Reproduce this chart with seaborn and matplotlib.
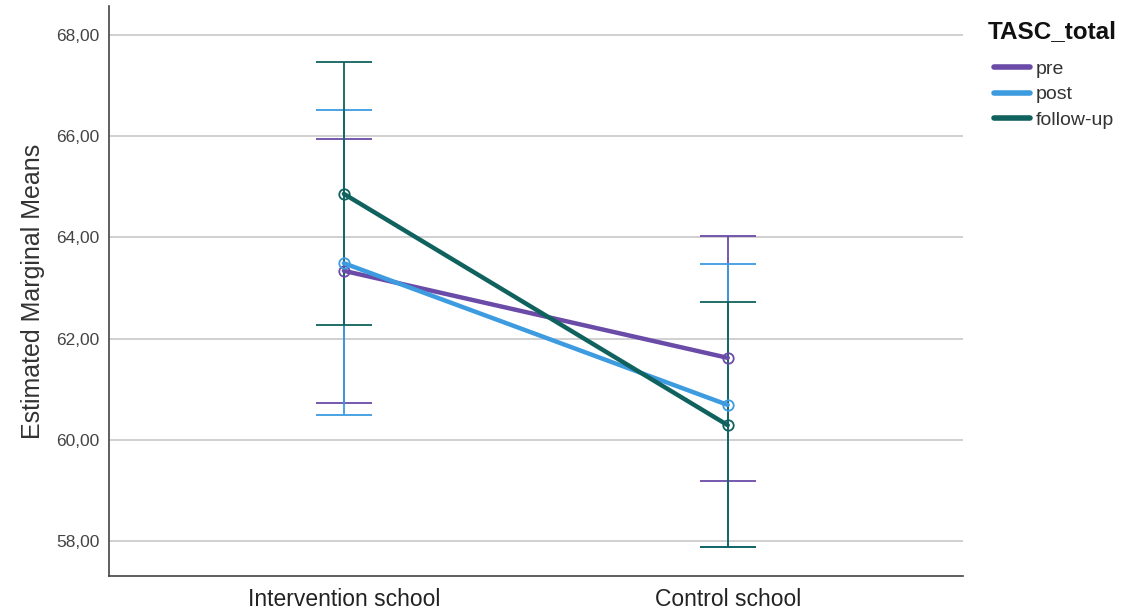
import pandas as pd
import matplotlib
matplotlib.use("Agg")
import matplotlib.pyplot as plt
import seaborn as sns

# data
schools = ["Intervention school", "Control school"]
times = ["pre", "post", "follow-up"]
means_pre = [63.34, 61.62]
means_post = [63.49, 60.69]
means_fu = [64.86, 60.29]
low_pre = [60.73, 59.19]
low_post = [60.49, 57.88]
low_fu = [62.27, 57.88]
high_pre = [65.94, 64.03]
high_post = [66.52, 63.47]
high_fu = [67.47, 62.72]
yticks = [58, 60, 62, 64, 66, 68]

colors = {"pre": "#6b4ba8", "post": "#3d9be0", "follow-up": "#0f625d"}

rows = []
for t, m, lo, hi in zip(times, [means_pre, means_post, means_fu],
                        [low_pre, low_post, low_fu], [high_pre, high_post, high_fu]):
    for i, s in enumerate(schools):
        rows.append({"school": s, "x": i, "TASC_total": t, "mean": m[i], "low": lo[i], "high": hi[i]})
df = pd.DataFrame(rows)

sns.set_style("white")
plt.rcParams['font.family'] = ['Liberation Sans', 'DejaVu Sans']

fig = plt.figure(figsize=(11.22, 6.11), dpi=100)
ax = fig.add_axes([0.0971, 0.0573, 0.7609, 0.9327])

# horizontal gridlines
for yt in yticks:
    ax.axhline(yt, color="#c8c8c8", lw=1.2, zorder=0)

# error bars
for t in times:
    d = df[df["TASC_total"] == t]
    ax.errorbar(d["x"], d["mean"], yerr=[d["mean"] - d["low"], d["high"] - d["mean"]],
                fmt="none", ecolor=colors[t], elinewidth=1.3, capsize=20, capthick=1.3, zorder=2)

# lines with open circle markers
n_before = len(ax.lines)
sns.lineplot(data=df, x="x", y="mean", hue="TASC_total", hue_order=times, palette=colors,
             lw=3.2, marker="o", markersize=7.5, markeredgewidth=1.3,
             ax=ax, legend=False, zorder=3)
for ln in ax.lines[n_before:]:
    ln.set_markerfacecolor("none")
    ln.set_markeredgecolor(ln.get_color())

ax.set_xlim(-0.612, 1.612)
ax.set_ylim(57.31, 68.57)
ax.set_xticks([0, 1])
ax.set_xticklabels(schools, fontsize=16.5, color="#222222")
ax.set_yticks(yticks)
ax.set_yticklabels([f"{v},00" for v in yticks], fontsize=12.5, color="#444444")
ax.tick_params(axis="y", length=0, pad=7)
ax.tick_params(axis="x", length=0, pad=9)
ax.set_xlabel("")
ax.set_ylabel("Estimated Marginal Means", fontsize=18, color="#333333", labelpad=8)

for side in ["top", "right"]:
    ax.spines[side].set_visible(False)
for side in ["left", "bottom"]:
    ax.spines[side].set_color("#444444")
    ax.spines[side].set_linewidth(1.2)

fig.text(0.8806, 1 - 32 / 611, "TASC_total", fontsize=17.5, fontweight="bold",
         color="#111111", va="center", ha="left")
handles = [plt.Line2D([], [], color=colors[t], lw=4) for t in times]
leg = fig.legend(handles, times, loc="upper left",
                 bbox_to_anchor=(0.8863, 1 - 60 / 611), frameon=False, fontsize=14,
                 handlelength=1.85, handletextpad=0.25, labelspacing=0.42,
                 borderpad=0.0, borderaxespad=0.0)
for txt in leg.get_texts():
    txt.set_color("#333333")

fig.savefig("out.png", dpi=100)
